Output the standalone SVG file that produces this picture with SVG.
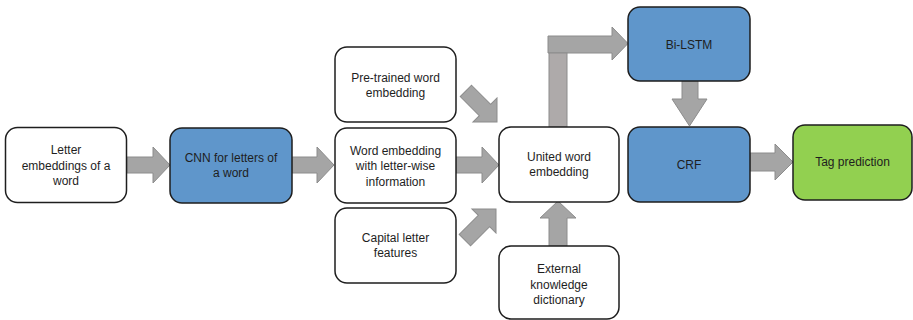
<svg xmlns="http://www.w3.org/2000/svg" width="913" height="320" viewBox="0 0 913 320">
  <style>
    .box { stroke: #1e1e1e; stroke-width: 1.5; }
    .plain { fill: #ffffff; }
    .blue { fill: #5f96cb; }
    .green { fill: #92d050; }
    .arrow { fill: #a5a5a5; stroke: #8c8c8c; stroke-width: 1; }
    .stem { fill: #aeaaaa; stroke: #8c8c8c; stroke-width: 1; }
    text { font-family: "Liberation Sans", Arial, sans-serif; font-size: 12px; fill: #1e1e1e; text-anchor: middle; }
  </style>
  <defs>
    <!-- block arrow pointing along +x, tip at the origin -->
    <path id="diagArrow" d="M-44,-8 H-17 V-17 L0,0 L-17,17 V8 H-44 Z"/>
  </defs>

  <rect width="913" height="320" fill="#ffffff"/>

  <g id="connectors">
    <path class="arrow" d="M127,157 H153 V147 L170,165 L153,183 V173 H127 Z"/>
    <path class="arrow" d="M292,157 H317 V147 L334,165 L317,183 V173 H292 Z"/>
    <path class="arrow" d="M456,157 H482 V147 L499,165 L482,183 V173 H456 Z"/>
    <use href="#diagArrow" class="arrow" transform="translate(497,122) rotate(45)"/>
    <use href="#diagArrow" class="arrow" transform="translate(496,209) rotate(-45)"/>
    <path class="arrow" d="M549,246 V218 H540 L558,201 L576,218 H567 V246 Z"/>
    <path class="arrow" d="M548,36 H612 V27 L628,43.5 L612,60 V53 H548 Z"/>
    <rect class="stem" x="549" y="53" width="18" height="74"/>
    <path class="arrow" d="M682,81 V99 H672 L689.5,126 L707,99 H698 V81 Z"/>
    <path class="arrow" d="M750,153 H775 V144 L793,162 L775,180 V171 H750 Z"/>
  </g>

  <g id="letter-embeddings">
    <rect class="box plain" x="5.5" y="127.5" width="121" height="75" rx="12"/>
    <text x="66" y="154">Letter</text>
    <text x="66" y="169.5">embeddings of a</text>
    <text x="66" y="185">word</text>
  </g>

  <g id="cnn">
    <rect class="box blue" x="170" y="128" width="122" height="75" rx="12"/>
    <text x="231" y="162">CNN for letters of</text>
    <text x="231" y="177">a word</text>
  </g>

  <g id="pretrained">
    <rect class="box plain" x="335" y="47" width="121" height="75" rx="12"/>
    <text x="395.5" y="82">Pre-trained word</text>
    <text x="395.5" y="97">embedding</text>
  </g>

  <g id="word-embedding">
    <rect class="box plain" x="335" y="128" width="121" height="75" rx="12"/>
    <text x="395.5" y="154.5">Word embedding</text>
    <text x="395.5" y="170">with letter-wise</text>
    <text x="395.5" y="185.5">information</text>
  </g>

  <g id="capital-features">
    <rect class="box plain" x="335" y="208" width="121" height="75" rx="12"/>
    <text x="395.5" y="242">Capital letter</text>
    <text x="395.5" y="257">features</text>
  </g>

  <g id="united">
    <rect class="box plain" x="499" y="127" width="120" height="75" rx="12"/>
    <text x="559" y="161">United word</text>
    <text x="559" y="176">embedding</text>
  </g>

  <g id="external">
    <rect class="box plain" x="499" y="246" width="120" height="73" rx="12"/>
    <text x="559" y="273">External</text>
    <text x="559" y="288.5">knowledge</text>
    <text x="559" y="304">dictionary</text>
  </g>

  <g id="bilstm">
    <rect class="box blue" x="628" y="7" width="122" height="74" rx="12"/>
    <text x="689" y="48.5">Bi-LSTM</text>
  </g>

  <g id="crf">
    <rect class="box blue" x="628" y="127" width="122" height="75" rx="12"/>
    <text x="689" y="169">CRF</text>
  </g>

  <g id="tag">
    <rect class="box green" x="793" y="125" width="119" height="75" rx="12"/>
    <text x="852.5" y="166">Tag prediction</text>
  </g>
</svg>
